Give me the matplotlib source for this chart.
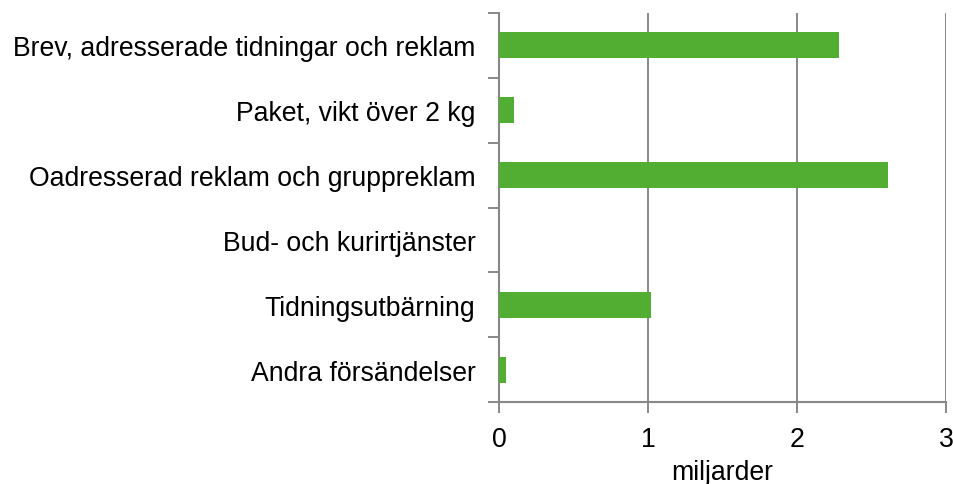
import matplotlib
matplotlib.use("Agg")
import matplotlib.pyplot as plt
import numpy as np

categories = ["Brev, adresserade tidningar och reklam",
              "Paket, vikt över 2 kg",
              "Oadresserad reklam och gruppreklam",
              "Bud- och kurirtjänster",
              "Tidningsutbärning",
              "Andra försändelser"]
values = [2.28, 0.10, 2.61, 0.0, 1.02, 0.045]
xticks = [0, 1, 2, 3]
xlabel = "miljarder"

plt.rcParams['font.family'] = ['Liberation Sans', 'DejaVu Sans']

fig = plt.figure(figsize=(9.54, 4.85), dpi=100)
ax = fig.add_axes([499/954, 1-403/485, (946-499)/954, (403-14)/485])

n = len(categories)
ypos = np.arange(n)
ax.barh(ypos, values, height=0.4, color="#52AE32", zorder=3)
ax.set_ylim(n - 0.5, -0.5)
ax.set_xlim(0, 3)

grid_c = "#888888"
ax.set_xticks(xticks)
ax.set_xticklabels([str(t) for t in xticks], fontsize=19.2)
ax.xaxis.grid(True, color=grid_c, linewidth=1.4, zorder=0)
ax.tick_params(axis='x', length=8, width=1.4, color=grid_c, pad=9)

ax.set_yticks(ypos)
ax.set_yticklabels(categories, fontsize=19.2)
ax.tick_params(axis='y', which='major', length=0, pad=17)
ax.set_yticks(np.arange(n + 1) - 0.5, minor=True)
ax.tick_params(axis='y', which='minor', length=8, width=1.4, color=grid_c)

for s in ['top', 'right']:
    ax.spines[s].set_visible(False)
for s in ['left', 'bottom']:
    ax.spines[s].set_color(grid_c)
    ax.spines[s].set_linewidth(1.5)

ax.set_xlabel(xlabel, fontsize=19.2, labelpad=5)

fig.savefig("out.png", dpi=100)
